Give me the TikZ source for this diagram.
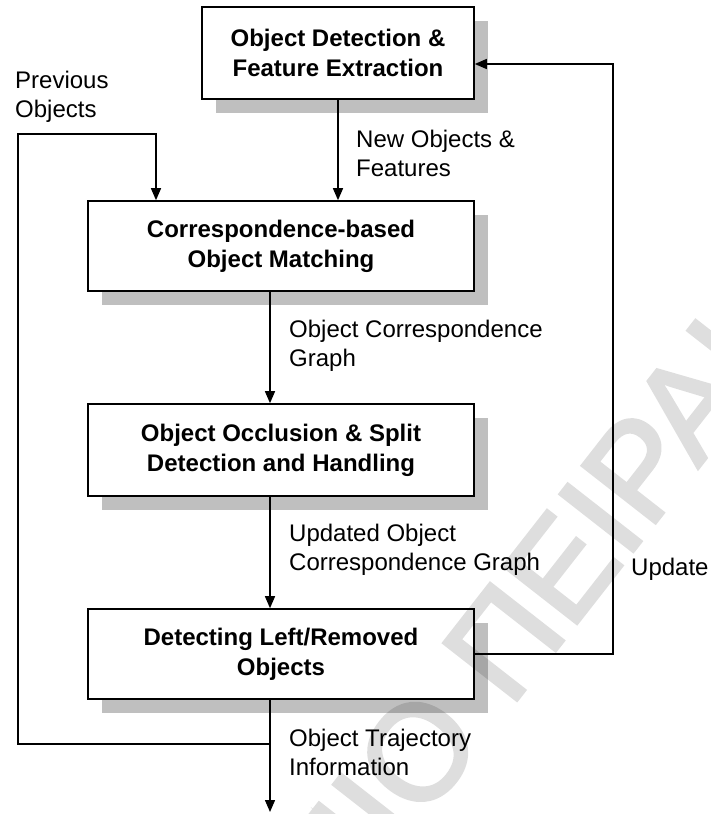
\documentclass[tikz,border=0pt]{standalone}
\usepackage{fontspec}
\setmainfont{Liberation Sans}
\newfontfamily\wmfont[FakeBold=2.5]{Liberation Sans}
\usetikzlibrary{arrows.meta,shadows,calc}
\begin{document}
\begin{tikzpicture}[x=1pt,y=-1pt,
  box/.style={draw=black, line width=1.6pt, fill=white, minimum width=386pt, minimum height=90pt,
    inner sep=0pt, align=center, font=\bfseries\fontsize{24}{30}\selectfont,
    drop shadow={shadow xshift=14pt, shadow yshift=-14pt, fill=black!25, opacity=1}},
  lbl/.style={anchor=base west, align=left, inner sep=0pt, font=\fontsize{24}{29}\selectfont},
  wire/.style={line width=1.4pt},
  arr/.style={wire, -{Triangle[length=12pt,width=10pt]}},
  wm/.style={inner sep=0pt, text=black, font=\wmfont\fontsize{135}{135}\selectfont}
]
\useasboundingbox (0,0) rectangle (711,814);
\fill[white] (0,0) rectangle (711,814);

\node[box, minimum width=272pt, minimum height=92pt] (b1) at (338,53) {Object Detection \&\\Feature Extraction};
\node[box] (b2) at (281,246) {Correspondence-based\\Object Matching};
\node[box, minimum height=92pt] (b3) at (281,450) {Object Occlusion \& Split\\Detection and Handling};
\node[box] (b4) at (281,654) {Detecting Left/Removed\\Objects};

\coordinate (out) at (270,812);
\coordinate (jn) at (270,744);
\coordinate (lc) at (18,744);
\coordinate (tl) at (18,134);
\coordinate (tr) at (156,134);
\coordinate (rb) at (613,654);
\coordinate (rt) at (613,64);

\draw[arr] (b1.south) -- (b1.south |- b2.north);
\draw[arr] (jn) -- (lc) -- (tl) -- (tr) -- (tr |- b2.north);
\draw[arr] (b2.south -| jn) -- (b3.north -| jn);
\draw[arr] (b3.south -| jn) -- (b4.north -| jn);
\draw[arr] (b4.south -| jn) -- (out);
\draw[arr] (b4.east) -- (rb) -- (rt) -- (rt -| b1.east);

% base anchor of a two-line label is the baseline of its last line
\node[lbl] (lprev) at (15,117) {Previous\\Objects};
\node[lbl] (lnew) at (356,176) {New Objects \&\\Features};
\node[lbl] (lcorr) at (289,366) {Object Correspondence\\Graph};
\node[lbl] (lupd) at (289,570) {Updated Object\\Correspondence Graph};
\node[lbl] (lupd2) at (631,575) {Update};
\node[lbl] (ltraj) at (289,775) {Object Trajectory\\Information};

\begin{scope}[transparency group, opacity=0.13]
\node[wm, anchor=base west, rotate=52] (wm2) at (510,709) {ΠΕΙΡΑΙΩΣ};
\node[wm, anchor=base east, rotate=52] (wm1) at (487,739) {ΠΑΝΕΠΙΣΤΗΜΙΟ};
\end{scope}
\end{tikzpicture}
\end{document}
